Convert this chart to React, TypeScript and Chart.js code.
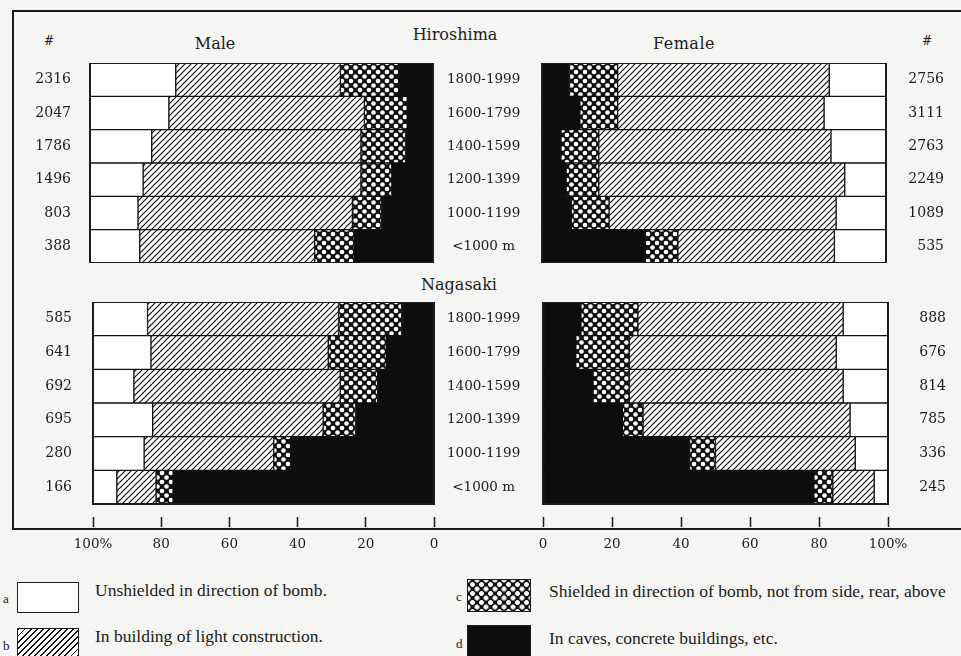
import React, { useEffect, useRef } from 'react';
import { Chart, registerables } from 'chart.js';

Chart.register(...registerables);

// ---------- data ----------
const distanceBands = ['1800-1999', '1600-1799', '1400-1599', '1200-1399', '1000-1199', '<1000 m'];

// counts (#)
const hiroMaleN = [2316, 2047, 1786, 1496, 803, 388];
const hiroFemaleN = [2756, 3111, 2763, 2249, 1089, 535];
const nagaMaleN = [585, 641, 692, 695, 280, 166];
const nagaFemaleN = [888, 676, 814, 785, 336, 245];

// percentages: a unshielded, b light building, c shielded front, d caves/concrete
const hiroMaleA = [25, 23, 18, 15.5, 14, 14.5];
const hiroMaleB = [48, 57, 61, 63.5, 62.5, 51];
const hiroMaleC = [17, 12.5, 13, 9, 8.5, 11.5];
const hiroMaleD = [10, 7.5, 8, 12, 15, 23];

const hiroFemaleA = [16.5, 18, 16, 12, 14.5, 15];
const hiroFemaleB = [61.5, 60, 67.5, 71.5, 66, 45.5];
const hiroFemaleC = [14, 11, 11, 9.5, 11, 9.5];
const hiroFemaleD = [8, 11, 5.5, 7, 8.5, 30];

const nagaMaleA = [16, 17, 12, 17.5, 15, 7];
const nagaMaleB = [56, 52, 60.5, 50, 38, 11.5];
const nagaMaleC = [18.5, 17, 11, 9.5, 5, 5];
const nagaMaleD = [9.5, 14, 16.5, 23, 42, 76.5];

const nagaFemaleA = [13, 15, 13, 11, 9.5, 4];
const nagaFemaleB = [59.5, 60, 62, 60, 40.5, 12];
const nagaFemaleC = [16.5, 15.5, 10.5, 6, 7.5, 5.5];
const nagaFemaleD = [11, 9.5, 14.5, 23, 42.5, 78.5];

const percentTicks = [0, 20, 40, 60, 80, 100];

const legendItems = [
  { key: 'a', text: 'Unshielded in direction of bomb.' },
  { key: 'b', text: 'In building of light construction.' },
  { key: 'c', text: 'Shielded in direction of bomb, not from side, rear, above' },
  { key: 'd', text: 'In caves, concrete buildings, etc.' },
];

// ---------- styles ----------
const SERIF = '"DejaVu Serif", serif';
const LEG_FONT = '"Liberation Serif", serif';
const INK = '#1b1b1b';
const BG = '#f5f5f3';

Chart.defaults.font.family = SERIF;

function makeHatch(ctx: CanvasRenderingContext2D): CanvasPattern {
  const s = 6;
  const c = document.createElement('canvas');
  c.width = s;
  c.height = s;
  const g = c.getContext('2d')!;
  g.fillStyle = '#fff';
  g.fillRect(0, 0, s, s);
  g.strokeStyle = '#111';
  g.lineWidth = 1.2;
  g.beginPath();
  g.moveTo(-1, s + 1);
  g.lineTo(s + 1, -1);
  g.moveTo(-1, 1);
  g.lineTo(1, -1);
  g.moveTo(s - 1, s + 1);
  g.lineTo(s + 1, s - 1);
  g.stroke();
  return ctx.createPattern(c, 'repeat')!;
}

function makeCross(ctx: CanvasRenderingContext2D): CanvasPattern {
  const s = 9;
  const h = s / 2;
  const c = document.createElement('canvas');
  c.width = s;
  c.height = s;
  const g = c.getContext('2d')!;
  g.fillStyle = '#111';
  g.fillRect(0, 0, s, s);
  g.fillStyle = '#fff';
  const pts = [[h, h], [0, 0], [s, 0], [0, s], [s, s]];
  for (const [x, y] of pts) {
    g.beginPath();
    g.arc(x, y, 2.3, 0, Math.PI * 2);
    g.fill();
  }
  return ctx.createPattern(c, 'repeat')!;
}

const framePlugin = {
  id: 'panelFrame',
  afterDatasetsDraw(chart: any) {
    const { ctx, chartArea: a } = chart;
    ctx.save();
    ctx.strokeStyle = INK;
    ctx.lineWidth = 2;
    ctx.strokeRect(a.left, a.top, a.right - a.left, a.bottom - a.top);
    ctx.restore();
  },
};

type PanelProps = {
  left: number;
  top: number;
  width: number;
  height: number;
  male: boolean;
  bottom: boolean;
  counts: number[];
  a: number[];
  b: number[];
  c: number[];
  d: number[];
  outerW: number;
  outerPad: number;
  innerW?: number;
  innerPad?: number;
  padLeft?: number;
  padRight?: number;
};

function Panel(p: PanelProps) {
  const ref = useRef<HTMLCanvasElement>(null);
  useEffect(() => {
    const canvas = ref.current!;
    const ctx = canvas.getContext('2d')!;
    const hatch = makeHatch(ctx);
    const cross = makeCross(ctx);
    const tickFont = { family: SERIF, size: 14 };
    const common = {
      borderColor: '#111',
      borderWidth: 1,
      borderSkipped: false as const,
      barPercentage: 1,
      categoryPercentage: 1,
    };
    const xScale: any = {
      type: 'linear',
      min: 0,
      max: 100,
      reverse: p.male,
      stacked: true,
      display: p.bottom,
      afterBuildTicks: (s: any) => {
        s.ticks = percentTicks.map((v) => ({ value: v }));
      },
      ticks: {
        maxRotation: 0,
        autoSkip: false,
        padding: 9,
        color: INK,
        font: { family: SERIF, size: 13.5 },
        callback: (v: any) => (v === 100 ? '100%' : String(v)),
      },
      grid: {
        drawOnChartArea: false,
        drawTicks: true,
        tickLength: 23,
        tickBorderDash: [0, 13, 10, 100],
        tickWidth: 1.5,
        tickColor: INK,
      },
      border: { display: false },
    };
    if (p.bottom) {
      xScale.afterFit = (s: any) => {
        s.height = 56;
        s.paddingLeft = 0;
        s.paddingRight = 0;
      };
    }
    const scales: any = {
      x: xScale,
      y: {
        type: 'category',
        position: p.male ? 'left' : 'right',
        stacked: true,
        offset: true,
        ticks: {
          callback: (_v: any, i: number) => String(p.counts[i]),
          padding: p.outerPad,
          crossAlign: p.male ? 'near' : 'far',
          color: INK,
          font: tickFont,
        },
        grid: { display: false, drawTicks: false },
        border: { display: false },
        afterFit: (s: any) => {
          s.width = p.outerW;
          s.paddingTop = 0;
          s.paddingBottom = 0;
        },
      },
    };
    if (p.male) {
      scales.y2 = {
        type: 'category',
        axis: 'y',
        position: 'right',
        offset: true,
        ticks: {
          crossAlign: 'center',
          padding: p.innerPad,
          color: INK,
          font: { family: SERIF, size: 13.5 },
        },
        grid: { display: false, drawTicks: false },
        border: { display: false },
        afterFit: (s: any) => {
          s.width = p.innerW;
          s.paddingTop = 0;
          s.paddingBottom = 0;
        },
      };
    }
    const chart = new Chart(ctx, {
      type: 'bar',
      data: {
        labels: distanceBands,
        datasets: [
          { label: 'd', data: p.d, backgroundColor: '#0d0d0d', ...common },
          { label: 'c', data: p.c, backgroundColor: cross, ...common },
          { label: 'b', data: p.b, backgroundColor: hatch, ...common },
          { label: 'a', data: p.a, backgroundColor: '#ffffff', ...common },
        ],
      },
      options: {
        indexAxis: 'y',
        responsive: false,
        animation: false,
        devicePixelRatio: 1,
        layout: { padding: { left: p.padLeft || 0, right: p.padRight || 0, top: 0, bottom: 0 } },
        plugins: { legend: { display: false }, tooltip: { enabled: false } },
        scales,
      },
      plugins: [framePlugin],
    } as any);
    return () => chart.destroy();
  }, []);
  return (
    <canvas
      ref={ref}
      width={p.width}
      height={p.height}
      style={{ position: 'absolute', left: p.left, top: p.top, width: p.width, height: p.height }}
    />
  );
}

function Label(props: { x: number; y: number; text: string; size: number; family?: string; ls?: number; align?: 'center' | 'left' }) {
  const center = props.align !== 'left';
  return (
    <div
      style={{
        position: 'absolute',
        left: props.x,
        top: props.y,
        transform: center ? 'translate(-50%, -50%)' : 'translate(0, -50%)',
        fontFamily: props.family || SERIF,
        fontSize: props.size,
        letterSpacing: props.ls || 0,
        color: INK,
        whiteSpace: 'nowrap',
        lineHeight: 1,
      }}
    >
      {props.text}
    </div>
  );
}

const swatchStyles: Record<string, React.CSSProperties> = {
  a: { background: '#fff' },
  b: { background: 'repeating-linear-gradient(135deg, #111 0 1.3px, #fff 1.3px 4.3px)' },
  c: {
    background:
      'radial-gradient(circle, #fff 2.1px, transparent 2.6px) 0 0/9px 9px, radial-gradient(circle, #fff 2.1px, transparent 2.6px) 4.5px 4.5px/9px 9px, #111',
  },
  d: { background: '#0d0d0d' },
};

const legendPos: Record<string, { lx: number; bx: number; by: number; bw: number; bh: number; tx: number; ty: number }> = {
  a: { lx: 3, bx: 17, by: 582, bw: 62, bh: 31, tx: 95, ty: 591 },
  b: { lx: 3, bx: 17, by: 628, bw: 62, bh: 34, tx: 95, ty: 637 },
  c: { lx: 456, bx: 467, by: 579, bw: 64, bh: 33, tx: 549, ty: 592 },
  d: { lx: 456, bx: 467, by: 625, bw: 64, bh: 36, tx: 549, ty: 639 },
};

export default function App() {
  return (
    <div style={{ position: 'absolute', left: 0, top: 0, width: 961, height: 656, overflow: 'hidden', background: BG }}>
      {/* outer frame */}
      <div
        style={{
          position: 'absolute',
          left: 12,
          top: 10,
          width: 970,
          height: 516,
          borderLeft: `2px solid ${INK}`,
          borderTop: `2px solid ${INK}`,
          borderBottom: `2.5px solid ${INK}`,
        }}
      />
      <Label x={49} y={41} text="#" size={12} />
      <Label x={927} y={41} text="#" size={12} />
      <Label x={215} y={44} text="Male" size={16} />
      <Label x={455} y={35} text="Hiroshima" size={16} />
      <Label x={684} y={44} text="Female" size={16} ls={0.5} />
      <Label x={459} y={285} text="Nagasaki" size={16} />

      <Panel left={0} top={63} width={542} height={200} male bottom={false} counts={hiroMaleN}
        a={hiroMaleA} b={hiroMaleB} c={hiroMaleC} d={hiroMaleD} outerW={90} outerPad={19} innerW={109} innerPad={14} />
      <Panel left={522} top={63} width={439} height={200} male={false} bottom={false} counts={hiroFemaleN}
        a={hiroFemaleA} b={hiroFemaleB} c={hiroFemaleC} d={hiroFemaleD} outerW={58} outerPad={20} padLeft={20} padRight={17} />
      <Panel left={0} top={302} width={543} height={258} male bottom counts={nagaMaleN}
        a={nagaMaleA} b={nagaMaleB} c={nagaMaleC} d={nagaMaleD} outerW={93} outerPad={21} innerW={109} innerPad={13} />
      <Panel left={523} top={302} width={438} height={258} male={false} bottom counts={nagaFemaleN}
        a={nagaFemaleA} b={nagaFemaleB} c={nagaFemaleC} d={nagaFemaleD} outerW={58} outerPad={20} padLeft={20} padRight={15} />

      {legendItems.map((it) => {
        const pos = legendPos[it.key];
        return (
          <React.Fragment key={it.key}>
            <Label x={pos.lx} y={pos.by + pos.bh / 2} text={it.key} size={13} family={LEG_FONT} align="left" />
            <div
              style={{
                position: 'absolute',
                left: pos.bx,
                top: pos.by,
                width: pos.bw,
                height: pos.bh,
                boxSizing: 'border-box',
                border: `1.5px solid ${INK}`,
                ...swatchStyles[it.key],
              }}
            />
            <Label x={pos.tx} y={pos.ty} text={it.text} size={17.5} family={LEG_FONT} align="left" />
          </React.Fragment>
        );
      })}
    </div>
  );
}
